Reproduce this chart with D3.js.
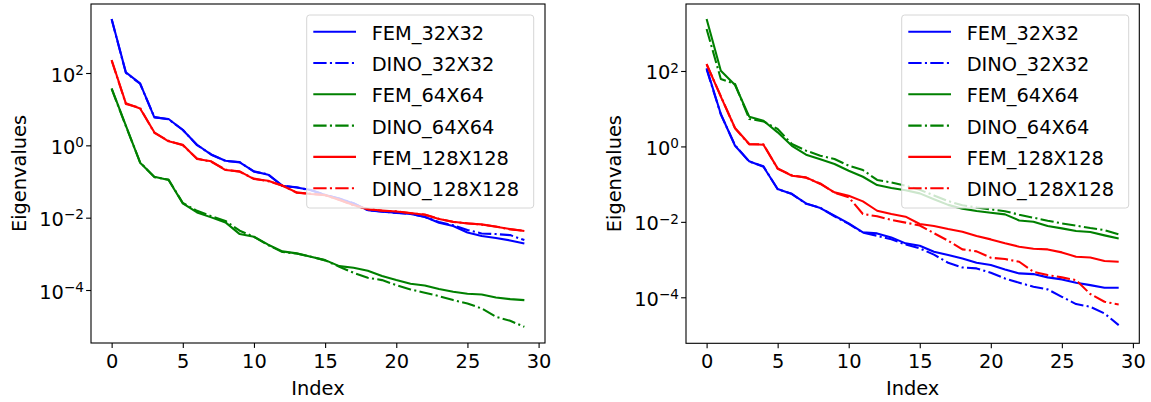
<!DOCTYPE html>
<html><head><meta charset="utf-8">
<script src="https://cdn.jsdelivr.net/npm/d3@7"></script>
<style>
body{margin:0;background:#fff}
svg{display:block}
text{font-family:"DejaVu Sans",sans-serif;fill:#000}
</style>
</head><body>
<svg id="c" width="1151" height="402"></svg>
<script>
// ---------- data ----------
const indices = d3.range(30);
const seriesNames = ["FEM_32X32","DINO_32X32","FEM_64X64","DINO_64X64","FEM_128X128","DINO_128X128"];
const seriesColors = ["#0000ff","#0000ff","#008000","#008000","#ff0000","#ff0000"];
const seriesDashed = [false,true,false,true,false,true];
const xTicks = [0,5,10,15,20,25,30];
const yTicks = [1e2,1e0,1e-2,1e-4];
const yTickExponents = ["2","0","\u22122","\u22124"];

// left panel
const leftFem32 = [3.12e3,104,51.8,5.94,5.35,2.65,1.04,0.551,0.376,0.338,0.191,0.154,0.0766,0.0687,0.0581,0.0422,0.0341,0.0248,0.0162,0.0146,0.0137,0.0126,0.0106,0.00724,0.00586,0.00391,0.00310,0.00273,0.00235,0.00194];
const leftDino32 = [3.05e3,101,50.5,6.05,5.25,2.70,1.01,0.560,0.368,0.345,0.187,0.158,0.0752,0.0695,0.0570,0.0430,0.0335,0.0252,0.0160,0.0148,0.0135,0.0128,0.0104,0.00759,0.00617,0.00454,0.00367,0.00352,0.00330,0.00240];
const leftFem64 = [37.7,3.49,0.331,0.136,0.110,0.0248,0.0140,0.0102,0.00740,0.00352,0.00297,0.00179,0.00117,0.00103,8.32e-4,6.71e-4,4.58e-4,4.12e-4,3.40e-4,2.43e-4,1.88e-4,1.49e-4,1.34e-4,1.06e-4,8.93e-5,7.87e-5,7.53e-5,6.22e-5,5.60e-5,5.26e-5];
const leftDino64 = [36.5,3.40,0.340,0.132,0.113,0.0255,0.0155,0.0110,0.00813,0.00437,0.00295,0.00174,0.00112,0.00102,8.3e-4,6.6e-4,4.40e-4,3.00e-4,2.18e-4,1.88e-4,1.37e-4,1.04e-4,8.39e-5,6.78e-5,5.26e-5,4.26e-5,3.09e-5,1.82e-5,1.41e-5,9.6e-6];
const leftFem128 = [229,14.5,10.5,2.29,1.29,1.04,0.418,0.361,0.207,0.191,0.117,0.105,0.0766,0.0500,0.0450,0.0422,0.0307,0.0223,0.0170,0.0158,0.0148,0.0135,0.0120,0.00914,0.00773,0.00693,0.00652,0.00561,0.00484,0.00426];
const leftDino128 = [222,14.0,10.8,2.22,1.33,1.00,0.430,0.352,0.213,0.186,0.120,0.102,0.0780,0.0490,0.0460,0.0415,0.0315,0.0218,0.0174,0.0155,0.0150,0.0133,0.0122,0.00935,0.00760,0.00705,0.00640,0.00570,0.00475,0.00435];

// right panel
const rightFem32 = [118,7.23,1.04,0.402,0.290,0.0741,0.0546,0.0309,0.0232,0.0145,0.00910,0.00525,0.00494,0.00387,0.00269,0.00233,0.00161,0.00132,0.00107,8.24e-4,7.14e-4,5.48e-4,4.30e-4,4.12e-4,3.37e-4,2.98e-4,2.43e-4,2.10e-4,1.79e-4,1.79e-4];
const rightDino32 = [112,7.05,1.08,0.395,0.296,0.0730,0.0555,0.0300,0.0238,0.0140,0.00880,0.00520,0.00427,0.00347,0.00251,0.00198,0.00135,8.24e-4,6.19e-4,5.83e-4,4.48e-4,3.16e-4,2.43e-4,1.90e-4,1.62e-4,1.03e-4,6.61e-5,5.61e-5,3.73e-5,1.83e-5];
const rightFem64 = [2.39e3,102,42.5,6.15,4.81,2.36,1.04,0.604,0.454,0.341,0.227,0.157,0.0946,0.0794,0.0692,0.0569,0.0398,0.0282,0.0224,0.0193,0.0175,0.0158,0.0109,0.0101,0.00774,0.00671,0.00570,0.00536,0.00438,0.00364];
const rightDino64 = [1.30e3,61.4,45.2,5.33,4.62,2.89,1.16,0.771,0.568,0.463,0.308,0.237,0.129,0.111,0.0908,0.0708,0.0501,0.0355,0.0275,0.0240,0.0214,0.0191,0.0155,0.0129,0.0107,0.00912,0.00794,0.00684,0.00603,0.00468];
const rightFem128 = [153,20.8,3.08,1.16,1.11,0.262,0.167,0.151,0.101,0.0605,0.0493,0.0349,0.0197,0.0161,0.0137,0.00875,0.00774,0.00644,0.00547,0.00420,0.00343,0.00269,0.00219,0.00194,0.00186,0.00155,0.00119,0.00114,9.12e-4,8.75e-4];
const rightDino128 = [150,21.5,3.00,1.13,1.14,0.255,0.172,0.147,0.104,0.0590,0.0447,0.0162,0.0140,0.0112,0.00955,0.00800,0.00500,0.00316,0.00186,0.00165,0.00112,0.00103,8.75e-4,4.75e-4,3.88e-4,3.37e-4,2.85e-4,1.22e-4,7.60e-5,6.47e-5];

const xLabel = "Index";
const yLabel = "Eigenvalues";

// ---------- layout ----------
const panels = [
  {left:91, right:545, top:4, bottom:343, logMax:3.908, logMin:-5.465, legendX:306.7, yLabelX:26,
   series:[leftFem32,leftDino32,leftFem64,leftDino64,leftFem128,leftDino128]},
  {left:686, right:1139.3, top:4, bottom:343.3, logMax:3.776, logMin:-5.22, legendX:901.7, yLabelX:621,
   series:[rightFem32,rightDino32,rightFem64,rightDino64,rightFem128,rightDino128]}
];
const FS = 19.4;
const svg = d3.select("#c");

panels.forEach(p => {
  const x = d3.scaleLinear().domain([-1.45, 30.45]).range([p.left, p.right]);
  const y = d3.scaleLog().domain([Math.pow(10,p.logMin), Math.pow(10,p.logMax)]).range([p.bottom, p.top]);
  const g = svg.append("g");

  const line = d3.line().x((d,i) => x(indices[i])).y(d => y(d));
  p.series.forEach((s,k) => {
    g.append("path")
      .attr("d", line(s))
      .attr("fill","none")
      .attr("stroke", seriesColors[k])
      .attr("stroke-width", 2.08)
      .attr("stroke-linejoin","round")
      .attr("stroke-dasharray", seriesDashed[k] ? "13.3,3.3,2.1,3.3" : null);
  });

  // spines
  g.append("rect").attr("x",p.left).attr("y",p.top)
    .attr("width",p.right-p.left).attr("height",p.bottom-p.top)
    .attr("fill","none").attr("stroke","#000").attr("stroke-width",1.1);

  // x axis
  const xa = g.append("g").attr("transform",`translate(0,${p.bottom})`)
    .call(d3.axisBottom(x).tickValues(xTicks).tickSize(4.9).tickSizeOuter(0).tickFormat(d3.format("d")));
  xa.select(".domain").remove();
  xa.selectAll("line").attr("stroke","#000").attr("stroke-width",1.1);
  xa.selectAll("text").attr("y",25).attr("dy",null).style("font-size",FS+"px")
    .style("font-family","DejaVu Sans").attr("fill","#000");

  // y axis
  const ya = g.append("g").attr("transform",`translate(${p.left},0)`)
    .call(d3.axisLeft(y).tickValues(yTicks).tickSize(4.9).tickSizeOuter(0).tickFormat(() => ""));
  ya.select(".domain").remove();
  ya.selectAll("line").attr("stroke","#000").attr("stroke-width",1.1);
  ya.selectAll("text").remove();
  yTicks.forEach((t,i) => {
    const tx = g.append("text").attr("x", p.left-7).attr("y", y(t)+8.5)
      .attr("text-anchor","end").style("font-size",FS+"px");
    tx.append("tspan").text("10");
    tx.append("tspan").attr("dy","-0.5em").style("font-size",(FS*0.7)+"px").text(yTickExponents[i]);
  });

  // axis labels
  g.append("text").attr("x",(p.left+p.right)/2).attr("y",395).attr("text-anchor","middle")
    .style("font-size",FS+"px").text(xLabel);
  g.append("text").attr("transform",`translate(${p.yLabelX},${(p.top+p.bottom)/2}) rotate(-90)`)
    .attr("text-anchor","middle").style("font-size",FS+"px").text(yLabel);

  // legend
  const lg = g.append("g");
  lg.append("rect").attr("x",p.legendX).attr("y",15).attr("width",227).attr("height",193)
    .attr("rx",3).attr("fill","#fff").attr("fill-opacity",0.8)
    .attr("stroke","#d6d6d6").attr("stroke-width",1);
  seriesNames.forEach((name,k) => {
    const ry = 31.7 + 31.3*k;
    lg.append("line").attr("x1",p.legendX+6.6).attr("x2",p.legendX+49.3)
      .attr("y1",ry).attr("y2",ry)
      .attr("stroke",seriesColors[k]).attr("stroke-width",2.08)
      .attr("stroke-dasharray", seriesDashed[k] ? "13.3,3.3,2.1,3.3" : null);
    lg.append("text").attr("x",p.legendX+65).attr("y",ry+8).style("font-size",FS+"px").text(name);
  });
});
</script>
</body></html>
